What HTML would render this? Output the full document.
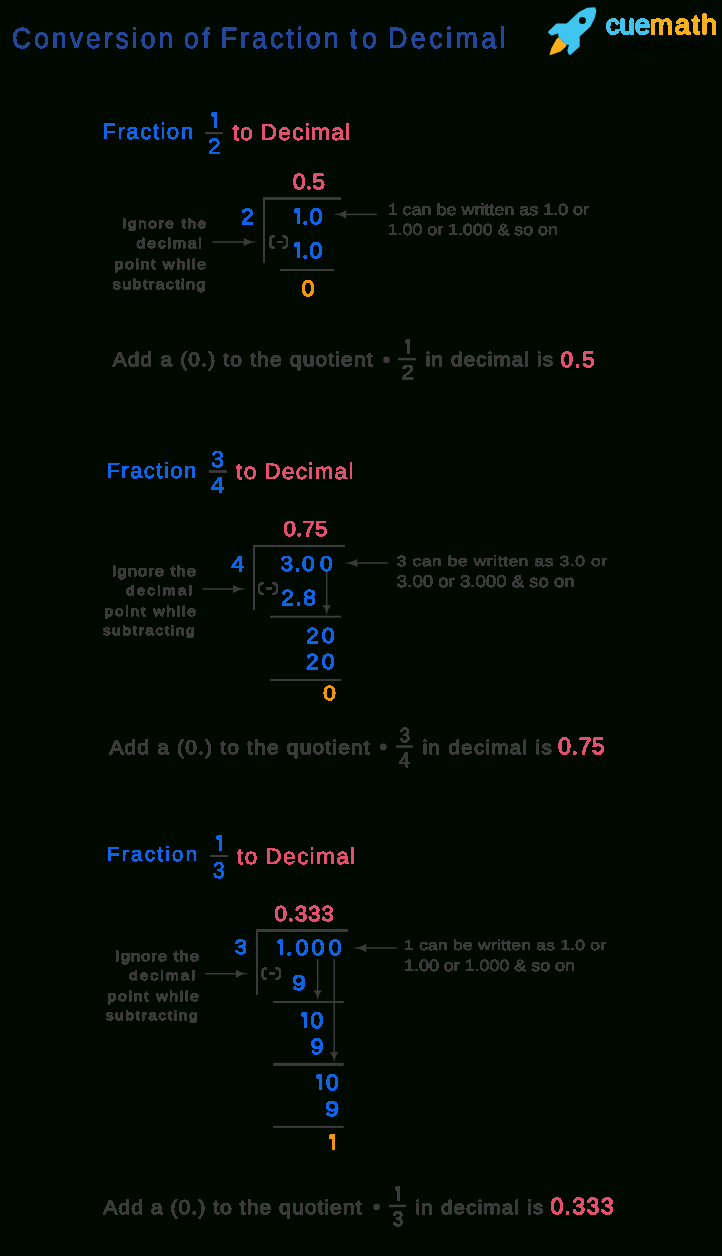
<!DOCTYPE html>
<html><head><meta charset="utf-8"><style>html,body{margin:0;padding:0;background:#000900;}svg{display:block;font-family:"Liberation Sans",sans-serif;white-space:pre;will-change:transform;text-rendering:geometricPrecision}</style></head><body><svg width="722" height="1256" viewBox="0 0 722 1256"><defs><filter id="al" x="0" y="0" width="722" height="1256" filterUnits="userSpaceOnUse" color-interpolation-filters="sRGB"><feComponentTransfer><feFuncA type="discrete" tableValues="0 1 1"/></feComponentTransfer></filter></defs>
<g>
<rect x="205.00" y="132.10" width="18.00" height="2.00" fill="#3b3b3b"/>
<rect x="398.10" y="357.90" width="17.80" height="2.40" fill="#3b3b3b"/>
<rect x="263.00" y="197.10" width="78.00" height="2.80" fill="#3b3b3b"/>
<rect x="280.00" y="269.00" width="54.00" height="2.00" fill="#3b3b3b"/>
<rect x="209.00" y="470.10" width="18.00" height="2.80" fill="#3b3b3b"/>
<rect x="396.20" y="745.20" width="16.60" height="2.60" fill="#3b3b3b"/>
<rect x="253.00" y="544.90" width="92.00" height="2.20" fill="#3b3b3b"/>
<rect x="270.00" y="615.70" width="71.20" height="2.00" fill="#3b3b3b"/>
<rect x="270.00" y="679.00" width="71.20" height="2.00" fill="#3b3b3b"/>
<rect x="210.00" y="855.00" width="18.00" height="2.00" fill="#3b3b3b"/>
<rect x="389.00" y="1204.70" width="16.90" height="2.40" fill="#3b3b3b"/>
<rect x="256.00" y="929.00" width="92.10" height="3.00" fill="#3b3b3b"/>
<rect x="273.10" y="1001.00" width="70.60" height="2.00" fill="#3b3b3b"/>
<rect x="273.10" y="1062.90" width="70.60" height="3.00" fill="#3b3b3b"/>
<rect x="273.10" y="1125.90" width="70.60" height="2.00" fill="#3b3b3b"/>
<rect x="263.00" y="198.00" width="2.00" height="64.70" fill="#3b3b3b"/>
<rect x="253.00" y="546.00" width="2.00" height="63.90" fill="#3b3b3b"/>
<rect x="256.00" y="930.00" width="2.00" height="64.90" fill="#3b3b3b"/>
<circle cx="386.50" cy="359.90" r="3.30" fill="#3b3b3b"/>
<circle cx="383.30" cy="746.90" r="3.40" fill="#3b3b3b"/>
<circle cx="376.60" cy="1207.00" r="3.30" fill="#3b3b3b"/>
<g transform="translate(256.80 242.00) rotate(0.0)"><rect x="-44.40" y="-0.75" width="36.40" height="1.5" fill="#3b3b3b"/><path d="M0.3 0 L-6.00 -0.9 L-9.50 -2.2 L-13.30 -4.3 L-12.80 0 L-13.30 4.3 L-9.50 2.2 L-6.00 0.9Z" fill="#3b3b3b"/></g>
<g transform="translate(333.10 214.40) rotate(180.0)"><rect x="-43.90" y="-0.75" width="35.90" height="1.5" fill="#3b3b3b"/><path d="M0.3 0 L-6.00 -0.9 L-9.50 -2.2 L-13.30 -4.3 L-12.80 0 L-13.30 4.3 L-9.50 2.2 L-6.00 0.9Z" fill="#3b3b3b"/></g>
<g transform="translate(246.00 589.00) rotate(0.0)"><rect x="-43.50" y="-0.75" width="35.50" height="1.5" fill="#3b3b3b"/><path d="M0.3 0 L-6.00 -0.9 L-9.50 -2.2 L-13.30 -4.3 L-12.80 0 L-13.30 4.3 L-9.50 2.2 L-6.00 0.9Z" fill="#3b3b3b"/></g>
<g transform="translate(344.30 563.00) rotate(180.0)"><rect x="-43.40" y="-0.75" width="35.40" height="1.5" fill="#3b3b3b"/><path d="M0.3 0 L-6.00 -0.9 L-9.50 -2.2 L-13.30 -4.3 L-12.80 0 L-13.30 4.3 L-9.50 2.2 L-6.00 0.9Z" fill="#3b3b3b"/></g>
<g transform="translate(326.70 616.00) rotate(90.0)"><rect x="-44.00" y="-0.75" width="36.00" height="1.5" fill="#3b3b3b"/><path d="M0.3 0 L-4.96 -0.9 L-7.86 -2.2 L-11.00 -4.3 L-10.59 0 L-11.00 4.3 L-7.86 2.2 L-4.96 0.9Z" fill="#3b3b3b"/></g>
<g transform="translate(249.00 973.70) rotate(0.0)"><rect x="-43.60" y="-0.75" width="35.60" height="1.5" fill="#3b3b3b"/><path d="M0.3 0 L-6.00 -0.9 L-9.50 -2.2 L-13.30 -4.3 L-12.80 0 L-13.30 4.3 L-9.50 2.2 L-6.00 0.9Z" fill="#3b3b3b"/></g>
<g transform="translate(353.10 948.00) rotate(180.0)"><rect x="-43.90" y="-0.75" width="35.90" height="1.5" fill="#3b3b3b"/><path d="M0.3 0 L-6.00 -0.9 L-9.50 -2.2 L-13.30 -4.3 L-12.80 0 L-13.30 4.3 L-9.50 2.2 L-6.00 0.9Z" fill="#3b3b3b"/></g>
<g transform="translate(317.70 1001.00) rotate(90.0)"><rect x="-42.00" y="-0.75" width="34.00" height="1.5" fill="#3b3b3b"/><path d="M0.3 0 L-4.96 -0.9 L-7.86 -2.2 L-11.00 -4.3 L-10.59 0 L-11.00 4.3 L-7.86 2.2 L-4.96 0.9Z" fill="#3b3b3b"/></g>
<g transform="translate(334.20 1063.00) rotate(90.0)"><rect x="-104.00" y="-0.75" width="96.00" height="1.5" fill="#3b3b3b"/><path d="M0.3 0 L-4.96 -0.9 L-7.86 -2.2 L-11.00 -4.3 L-10.59 0 L-11.00 4.3 L-7.86 2.2 L-4.96 0.9Z" fill="#3b3b3b"/></g>
<path fill="#40c4f0" d="M587.2 7.7 L595.1 7.3 L596.4 10.6 L594.7 18.1 L590.5 26.4 L579.7 36.4 L579.7 46.4 L570.6 54.7 L569 55.1 L567.3 50.5 L569 44.7 L566.4 44.7 L558.5 37.2 L558.1 33.5 L551.5 35.6 L548.2 33.1 L548.2 31.4 L556.5 23.5 L566.4 23.5 L568.1 22.3 L578.9 11.9 Z"/><circle cx="582.4" cy="20.6" r="3.5" fill="#000900"/><path fill="#fab01a" d="M558.5 37.2 L566.4 44.7 L566 46.4 L560.6 51.4 L551.5 54.7 L549.4 54.7 L551.5 48 L556.5 38.9 Z"/>
</g>
<g filter="url(#al)">
<text transform="translate(11.99 48.00) scale(0.920 1)" font-size="28.76" font-weight="normal" fill="#24479a" stroke="#24479a" stroke-width="0.70" stroke-linejoin="round" textLength="175.33" lengthAdjust="spacing">Conversion</text>
<text transform="translate(184.00 48.00) scale(0.920 1)" font-size="28.76" font-weight="normal" fill="#24479a" stroke="#24479a" stroke-width="0.70" stroke-linejoin="round" textLength="28.02" lengthAdjust="spacing">of</text>
<text transform="translate(220.75 48.00) scale(0.920 1)" font-size="29.16" font-weight="normal" fill="#24479a" stroke="#24479a" stroke-width="0.70" stroke-linejoin="round" textLength="127.96" lengthAdjust="spacing">Fraction</text>
<text transform="translate(349.81 48.00) scale(0.920 1)" font-size="28.76" font-weight="normal" fill="#24479a" stroke="#24479a" stroke-width="0.70" stroke-linejoin="round" textLength="29.38" lengthAdjust="spacing">to</text>
<text transform="translate(388.06 48.00) scale(0.920 1)" font-size="29.22" font-weight="normal" fill="#24479a" stroke="#24479a" stroke-width="0.70" stroke-linejoin="round" textLength="127.72" lengthAdjust="spacing">Decimal</text>
<text x="605.71" y="34.00" font-size="27.64" font-weight="normal" fill="#40c4f0" stroke="#40c4f0" stroke-width="1.60" stroke-linejoin="round" textLength="44.43" lengthAdjust="spacingAndGlyphs">cue</text>
<text x="649.83" y="33.80" font-size="27.57" font-weight="normal" fill="#fab01a" stroke="#fab01a" stroke-width="1.60" stroke-linejoin="round" textLength="66.94" lengthAdjust="spacing">math</text>
<text x="607.57" y="50.60" font-size="11.72" font-weight="bold" fill="#020302" textLength="107.35" lengthAdjust="spacingAndGlyphs">THE MATH EXPERT</text>
<text x="102.30" y="138.90" font-size="22.30" font-weight="normal" fill="#1064e6" stroke="#1064e6" stroke-width="0.50" stroke-linejoin="round" textLength="90.82" lengthAdjust="spacing">Fraction</text>
<path d="M213.90 112.00 L217.10 112.00 L217.10 128.00 L213.90 128.00 L213.90 116.80 L211.90 116.80 L211.00 115.20 L211.60 113.28 L213.10 112.00 Z" fill="#1064e6"/>
<text transform="translate(208.07 153.50) scale(1.008 1)" font-size="22.51" font-weight="normal" fill="#1064e6" stroke="#1064e6" stroke-width="0.50" stroke-linejoin="round">2</text>
<text x="232.50" y="139.50" font-size="23.12" font-weight="normal" fill="#e4506e" stroke="#e4506e" stroke-width="0.50" stroke-linejoin="round" textLength="20.46" lengthAdjust="spacing">to</text>
<text x="260.16" y="139.50" font-size="23.12" font-weight="normal" fill="#e4506e" stroke="#e4506e" stroke-width="0.50" stroke-linejoin="round" textLength="90.08" lengthAdjust="spacing">Decimal</text>
<text transform="translate(292.81 189.10) scale(1.050 1)" font-size="21.77" font-weight="normal" fill="#e4506e" stroke="#e4506e" stroke-width="0.90" stroke-linejoin="round" textLength="30.64" lengthAdjust="spacing">0.5</text>
<text transform="translate(241.10 224.00) scale(1.043 1)" font-size="22.01" font-weight="normal" fill="#1064e6" stroke="#1064e6" stroke-width="0.90" stroke-linejoin="round">2</text>
<path d="M296.88 208.00 L300.10 208.00 L300.10 224.10 L296.88 224.10 L296.88 212.83 L294.70 212.83 L293.80 211.22 L294.40 209.29 L296.08 208.00 Z" fill="#1064e6"/>
<text transform="translate(302.10 224.10) scale(1.050 1)" font-size="22.34" font-weight="normal" fill="#1064e6" stroke="#1064e6" stroke-width="0.90" stroke-linejoin="round" textLength="19.42" lengthAdjust="spacing">.0</text>
<path d="M274.57 236.05 Q270.25 236.05 270.25 239.30 L270.25 244.50 Q270.25 247.75 274.57 247.75 M282.63 236.05 Q286.95 236.05 286.95 239.30 L286.95 244.50 Q286.95 247.75 282.63 247.75" fill="none" stroke="#3b3b3b" stroke-width="2.5"/>
<rect x="276.68" y="240.80" width="5.76" height="2.2" fill="#3b3b3b"/>
<path d="M296.88 242.00 L300.10 242.00 L300.10 258.10 L296.88 258.10 L296.88 246.83 L294.70 246.83 L293.80 245.22 L294.40 243.29 L296.08 242.00 Z" fill="#1064e6"/>
<text transform="translate(302.10 258.10) scale(1.050 1)" font-size="22.34" font-weight="normal" fill="#1064e6" stroke="#1064e6" stroke-width="0.90" stroke-linejoin="round" textLength="19.42" lengthAdjust="spacing">.0</text>
<text transform="translate(301.38 296.00) scale(1.031 1)" font-size="22.73" font-weight="normal" fill="#f5960a" stroke="#f5960a" stroke-width="0.90" stroke-linejoin="round">0</text>
<text transform="translate(122.04 228.30) scale(1.150 1)" font-size="13.20" font-weight="normal" fill="#3b3b3b" stroke="#3b3b3b" stroke-width="1.00" stroke-linejoin="round" textLength="73.02" lengthAdjust="spacing">Ignore the</text>
<text transform="translate(136.58 248.00) scale(1.150 1)" font-size="13.77" font-weight="normal" fill="#3b3b3b" stroke="#3b3b3b" stroke-width="1.00" stroke-linejoin="round" textLength="56.65" lengthAdjust="spacing">decimal</text>
<text transform="translate(114.41 269.00) scale(1.150 1)" font-size="13.98" font-weight="normal" fill="#3b3b3b" stroke="#3b3b3b" stroke-width="1.00" stroke-linejoin="round" textLength="79.64" lengthAdjust="spacing">point while</text>
<text transform="translate(112.84 288.80) scale(1.150 1)" font-size="13.95" font-weight="normal" fill="#3b3b3b" stroke="#3b3b3b" stroke-width="1.00" stroke-linejoin="round" textLength="80.44" lengthAdjust="spacing">subtracting</text>
<text transform="translate(387.64 215.00) scale(1.200 1)" font-size="16.10" font-weight="normal" fill="#3b3b3b" stroke="#3b3b3b" stroke-width="0.60" stroke-linejoin="round" textLength="167.87" lengthAdjust="spacingAndGlyphs">1 can be written as 1.0 or</text>
<text transform="translate(387.65 234.80) scale(1.200 1)" font-size="16.08" font-weight="normal" fill="#3b3b3b" stroke="#3b3b3b" stroke-width="0.60" stroke-linejoin="round" textLength="141.85" lengthAdjust="spacingAndGlyphs">1.00 or 1.000 &amp; so on</text>
<text transform="translate(112.64 366.20) scale(1.060 1)" font-size="19.71" font-weight="normal" fill="#3b3b3b" stroke="#3b3b3b" stroke-width="1.00" stroke-linejoin="round" textLength="245.18" lengthAdjust="spacing">Add a (0.) to the quotient</text>
<path d="M406.92 339.00 L409.90 339.00 L409.90 353.90 L406.92 353.90 L406.92 343.47 L405.90 343.47 L405.00 341.98 L405.60 340.19 L406.12 339.00 Z" fill="#3b3b3b"/>
<text transform="translate(401.42 378.60) scale(1.142 1)" font-size="19.82" font-weight="normal" fill="#3b3b3b" stroke="#3b3b3b" stroke-width="0.90" stroke-linejoin="round">2</text>
<text transform="translate(425.84 366.20) scale(1.060 1)" font-size="19.37" font-weight="normal" fill="#3b3b3b" stroke="#3b3b3b" stroke-width="1.00" stroke-linejoin="round" textLength="119.93" lengthAdjust="spacing">in decimal is</text>
<text x="560.75" y="367.40" font-size="21.99" font-weight="normal" fill="#e4506e" stroke="#e4506e" stroke-width="1.00" stroke-linejoin="round" textLength="33.67" lengthAdjust="spacing">0.5</text>
<text x="106.40" y="478.00" font-size="21.98" font-weight="normal" fill="#1064e6" stroke="#1064e6" stroke-width="0.50" stroke-linejoin="round" textLength="89.83" lengthAdjust="spacing">Fraction</text>
<text transform="translate(211.02 467.10) scale(1.020 1)" font-size="23.09" font-weight="normal" fill="#1064e6" stroke="#1064e6" stroke-width="0.50" stroke-linejoin="round">3</text>
<text transform="translate(210.43 493.00) scale(1.085 1)" font-size="23.05" font-weight="normal" fill="#1064e6" stroke="#1064e6" stroke-width="0.50" stroke-linejoin="round">4</text>
<text x="235.81" y="478.70" font-size="23.05" font-weight="normal" fill="#e4506e" stroke="#e4506e" stroke-width="0.50" stroke-linejoin="round" textLength="20.86" lengthAdjust="spacing">to</text>
<text x="264.28" y="478.70" font-size="22.65" font-weight="normal" fill="#e4506e" stroke="#e4506e" stroke-width="0.50" stroke-linejoin="round" textLength="89.19" lengthAdjust="spacing">Decimal</text>
<text transform="translate(283.48 535.80) scale(1.050 1)" font-size="21.36" font-weight="normal" fill="#e4506e" stroke="#e4506e" stroke-width="0.90" stroke-linejoin="round" textLength="41.90" lengthAdjust="spacing">0.75</text>
<text transform="translate(231.27 570.70) scale(1.091 1)" font-size="21.66" font-weight="normal" fill="#1064e6" stroke="#1064e6" stroke-width="0.90" stroke-linejoin="round">4</text>
<text transform="translate(280.43 570.70) scale(1.050 1)" font-size="21.38" font-weight="normal" fill="#1064e6" stroke="#1064e6" stroke-width="0.90" stroke-linejoin="round" textLength="32.37" lengthAdjust="spacing">3.0</text>
<text transform="translate(319.88 570.70) scale(1.058 1)" font-size="21.33" font-weight="normal" fill="#1064e6" stroke="#1064e6" stroke-width="0.90" stroke-linejoin="round">0</text>
<path d="M263.72 582.95 Q259.05 582.95 259.05 586.20 L259.05 590.80 Q259.05 594.05 263.72 594.05 M272.28 582.95 Q276.95 582.95 276.95 586.20 L276.95 590.80 Q276.95 594.05 272.28 594.05" fill="none" stroke="#3b3b3b" stroke-width="2.5"/>
<rect x="265.96" y="587.40" width="6.12" height="2.2" fill="#3b3b3b"/>
<text transform="translate(281.14 605.00) scale(1.050 1)" font-size="21.58" font-weight="normal" fill="#1064e6" stroke="#1064e6" stroke-width="0.90" stroke-linejoin="round" textLength="33.06" lengthAdjust="spacing">2.8</text>
<text transform="translate(306.21 642.80) scale(1.050 1)" font-size="21.64" font-weight="normal" fill="#1064e6" stroke="#1064e6" stroke-width="0.90" stroke-linejoin="round" textLength="26.95" lengthAdjust="spacing">20</text>
<text transform="translate(306.12 668.60) scale(1.050 1)" font-size="21.61" font-weight="normal" fill="#1064e6" stroke="#1064e6" stroke-width="0.90" stroke-linejoin="round" textLength="26.88" lengthAdjust="spacing">20</text>
<text transform="translate(323.31 700.40) scale(1.113 1)" font-size="20.23" font-weight="normal" fill="#f5960a" stroke="#f5960a" stroke-width="0.90" stroke-linejoin="round">0</text>
<text transform="translate(111.84 575.50) scale(1.150 1)" font-size="14.45" font-weight="normal" fill="#3b3b3b" stroke="#3b3b3b" stroke-width="1.00" stroke-linejoin="round" textLength="73.11" lengthAdjust="spacing">Ignore the</text>
<text transform="translate(125.97 595.40) scale(1.150 1)" font-size="13.28" font-weight="normal" fill="#3b3b3b" stroke="#3b3b3b" stroke-width="1.00" stroke-linejoin="round" textLength="57.31" lengthAdjust="spacing">decimal</text>
<text transform="translate(104.39 616.00) scale(1.150 1)" font-size="13.72" font-weight="normal" fill="#3b3b3b" stroke="#3b3b3b" stroke-width="1.00" stroke-linejoin="round" textLength="79.60" lengthAdjust="spacing">point while</text>
<text transform="translate(102.68 635.30) scale(1.150 1)" font-size="13.49" font-weight="normal" fill="#3b3b3b" stroke="#3b3b3b" stroke-width="1.00" stroke-linejoin="round" textLength="80.06" lengthAdjust="spacing">subtracting</text>
<text transform="translate(396.80 566.30) scale(1.200 1)" font-size="14.48" font-weight="normal" fill="#3b3b3b" stroke="#3b3b3b" stroke-width="0.60" stroke-linejoin="round" textLength="175.19" lengthAdjust="spacing">3 can be written as 3.0 or</text>
<text transform="translate(396.87 586.70) scale(1.200 1)" font-size="17.09" font-weight="normal" fill="#3b3b3b" stroke="#3b3b3b" stroke-width="0.60" stroke-linejoin="round" textLength="148.28" lengthAdjust="spacingAndGlyphs">3.00 or 3.000 &amp; so on</text>
<text transform="translate(109.38 754.20) scale(1.060 1)" font-size="19.77" font-weight="normal" fill="#3b3b3b" stroke="#3b3b3b" stroke-width="1.00" stroke-linejoin="round" textLength="245.58" lengthAdjust="spacing">Add a (0.) to the quotient</text>
<text transform="translate(399.64 742.00) scale(0.905 1)" font-size="20.36" font-weight="normal" fill="#3b3b3b" stroke="#3b3b3b" stroke-width="0.90" stroke-linejoin="round">3</text>
<text transform="translate(399.07 766.90) scale(0.955 1)" font-size="20.56" font-weight="normal" fill="#3b3b3b" stroke="#3b3b3b" stroke-width="0.90" stroke-linejoin="round">4</text>
<text transform="translate(422.71 754.20) scale(1.060 1)" font-size="19.29" font-weight="normal" fill="#3b3b3b" stroke="#3b3b3b" stroke-width="1.00" stroke-linejoin="round" textLength="121.60" lengthAdjust="spacing">in decimal is</text>
<text x="558.05" y="754.20" font-size="23.21" font-weight="normal" fill="#e4506e" stroke="#e4506e" stroke-width="1.00" stroke-linejoin="round" textLength="46.72" lengthAdjust="spacing">0.75</text>
<text x="107.02" y="861.40" font-size="20.45" font-weight="normal" fill="#1064e6" stroke="#1064e6" stroke-width="0.50" stroke-linejoin="round" textLength="90.10" lengthAdjust="spacing">Fraction</text>
<path d="M218.80 835.00 L222.00 835.00 L222.00 851.00 L218.80 851.00 L218.80 839.80 L216.90 839.80 L216.00 838.20 L216.60 836.28 L218.00 835.00 Z" fill="#1064e6"/>
<text transform="translate(213.06 877.80) scale(0.930 1)" font-size="22.58" font-weight="normal" fill="#1064e6" stroke="#1064e6" stroke-width="0.50" stroke-linejoin="round">3</text>
<text x="236.80" y="863.70" font-size="22.58" font-weight="normal" fill="#e4506e" stroke="#e4506e" stroke-width="0.50" stroke-linejoin="round" textLength="20.43" lengthAdjust="spacing">to</text>
<text x="265.27" y="863.70" font-size="22.65" font-weight="normal" fill="#e4506e" stroke="#e4506e" stroke-width="0.50" stroke-linejoin="round" textLength="89.89" lengthAdjust="spacing">Decimal</text>
<text transform="translate(274.50 920.80) scale(1.050 1)" font-size="21.44" font-weight="normal" fill="#e4506e" stroke="#e4506e" stroke-width="0.90" stroke-linejoin="round" textLength="56.50" lengthAdjust="spacing">0.333</text>
<text transform="translate(234.46 954.10) scale(1.085 1)" font-size="20.57" font-weight="normal" fill="#1064e6" stroke="#1064e6" stroke-width="0.90" stroke-linejoin="round">3</text>
<path d="M279.80 939.20 L282.90 939.20 L282.90 954.70 L279.80 954.70 L279.80 943.85 L277.90 943.85 L277.00 942.30 L277.60 940.44 L279.00 939.20 Z" fill="#1064e6"/>
<text transform="translate(286.03 954.70) scale(1.050 1)" font-size="22.04" font-weight="normal" fill="#1064e6" stroke="#1064e6" stroke-width="0.90" stroke-linejoin="round" textLength="36.48" lengthAdjust="spacing">.00</text>
<text transform="translate(328.65 954.70) scale(1.046 1)" font-size="22.00" font-weight="normal" fill="#1064e6" stroke="#1064e6" stroke-width="0.90" stroke-linejoin="round">0</text>
<path d="M267.21 967.95 Q262.75 967.95 262.75 971.20 L262.75 975.80 Q262.75 979.05 267.21 979.05 M275.49 967.95 Q279.95 967.95 279.95 971.20 L279.95 975.80 Q279.95 979.05 275.49 979.05" fill="none" stroke="#3b3b3b" stroke-width="2.5"/>
<rect x="269.38" y="972.40" width="5.91" height="2.2" fill="#3b3b3b"/>
<text transform="translate(292.11 990.00) scale(1.186 1)" font-size="21.05" font-weight="normal" fill="#1064e6" stroke="#1064e6" stroke-width="0.90" stroke-linejoin="round">9</text>
<path d="M303.98 1011.80 L307.20 1011.80 L307.20 1027.90 L303.98 1027.90 L303.98 1016.63 L302.00 1016.63 L301.10 1015.02 L301.70 1013.09 L303.18 1011.80 Z" fill="#1064e6"/>
<text transform="translate(310.59 1027.90) scale(1.008 1)" font-size="22.63" font-weight="normal" fill="#1064e6" stroke="#1064e6" stroke-width="0.90" stroke-linejoin="round">0</text>
<text transform="translate(310.38 1054.00) scale(1.052 1)" font-size="22.48" font-weight="normal" fill="#1064e6" stroke="#1064e6" stroke-width="0.90" stroke-linejoin="round">9</text>
<path d="M319.04 1074.10 L322.20 1074.10 L322.20 1089.90 L319.04 1089.90 L319.04 1078.84 L317.00 1078.84 L316.10 1077.26 L316.70 1075.36 L318.24 1074.10 Z" fill="#1064e6"/>
<text transform="translate(325.90 1089.90) scale(1.018 1)" font-size="22.40" font-weight="normal" fill="#1064e6" stroke="#1064e6" stroke-width="0.90" stroke-linejoin="round">0</text>
<text transform="translate(324.95 1116.30) scale(1.195 1)" font-size="21.11" font-weight="normal" fill="#1064e6" stroke="#1064e6" stroke-width="0.90" stroke-linejoin="round">9</text>
<path d="M331.88 1133.80 L335.10 1133.80 L335.10 1149.90 L331.88 1149.90 L331.88 1138.63 L329.70 1138.63 L328.80 1137.02 L329.40 1135.09 L331.08 1133.80 Z" fill="#f5960a"/>
<text transform="translate(115.12 960.50) scale(1.150 1)" font-size="14.43" font-weight="normal" fill="#3b3b3b" stroke="#3b3b3b" stroke-width="1.00" stroke-linejoin="round" textLength="72.90" lengthAdjust="spacing">Ignore the</text>
<text transform="translate(129.19 980.40) scale(1.150 1)" font-size="13.27" font-weight="normal" fill="#3b3b3b" stroke="#3b3b3b" stroke-width="1.00" stroke-linejoin="round" textLength="57.08" lengthAdjust="spacing">decimal</text>
<text transform="translate(107.52 1001.00) scale(1.150 1)" font-size="13.84" font-weight="normal" fill="#3b3b3b" stroke="#3b3b3b" stroke-width="1.00" stroke-linejoin="round" textLength="79.49" lengthAdjust="spacing">point while</text>
<text transform="translate(105.70 1020.30) scale(1.150 1)" font-size="13.51" font-weight="normal" fill="#3b3b3b" stroke="#3b3b3b" stroke-width="1.00" stroke-linejoin="round" textLength="80.06" lengthAdjust="spacing">subtracting</text>
<text transform="translate(404.12 950.40) scale(1.200 1)" font-size="14.50" font-weight="normal" fill="#3b3b3b" stroke="#3b3b3b" stroke-width="0.60" stroke-linejoin="round" textLength="168.31" lengthAdjust="spacing">1 can be written as 1.0 or</text>
<text transform="translate(404.05 970.70) scale(1.200 1)" font-size="16.26" font-weight="normal" fill="#3b3b3b" stroke="#3b3b3b" stroke-width="0.60" stroke-linejoin="round" textLength="142.45" lengthAdjust="spacingAndGlyphs">1.00 or 1.000 &amp; so on</text>
<text transform="translate(103.19 1214.20) scale(1.060 1)" font-size="20.04" font-weight="normal" fill="#3b3b3b" stroke="#3b3b3b" stroke-width="1.00" stroke-linejoin="round" textLength="243.75" lengthAdjust="spacing">Add a (0.) to the quotient</text>
<path d="M396.92 1186.00 L399.90 1186.00 L399.90 1200.90 L396.92 1200.90 L396.92 1190.47 L395.90 1190.47 L395.00 1188.98 L395.60 1187.19 L396.12 1186.00 Z" fill="#3b3b3b"/>
<text transform="translate(392.62 1225.80) scale(0.930 1)" font-size="20.84" font-weight="normal" fill="#3b3b3b" stroke="#3b3b3b" stroke-width="0.90" stroke-linejoin="round">3</text>
<text transform="translate(415.53 1214.20) scale(1.060 1)" font-size="19.27" font-weight="normal" fill="#3b3b3b" stroke="#3b3b3b" stroke-width="1.00" stroke-linejoin="round" textLength="120.59" lengthAdjust="spacing">in decimal is</text>
<text x="550.44" y="1214.00" font-size="23.14" font-weight="normal" fill="#e4506e" stroke="#e4506e" stroke-width="1.00" stroke-linejoin="round" textLength="63.07" lengthAdjust="spacing">0.333</text>
</g></svg></body></html>
